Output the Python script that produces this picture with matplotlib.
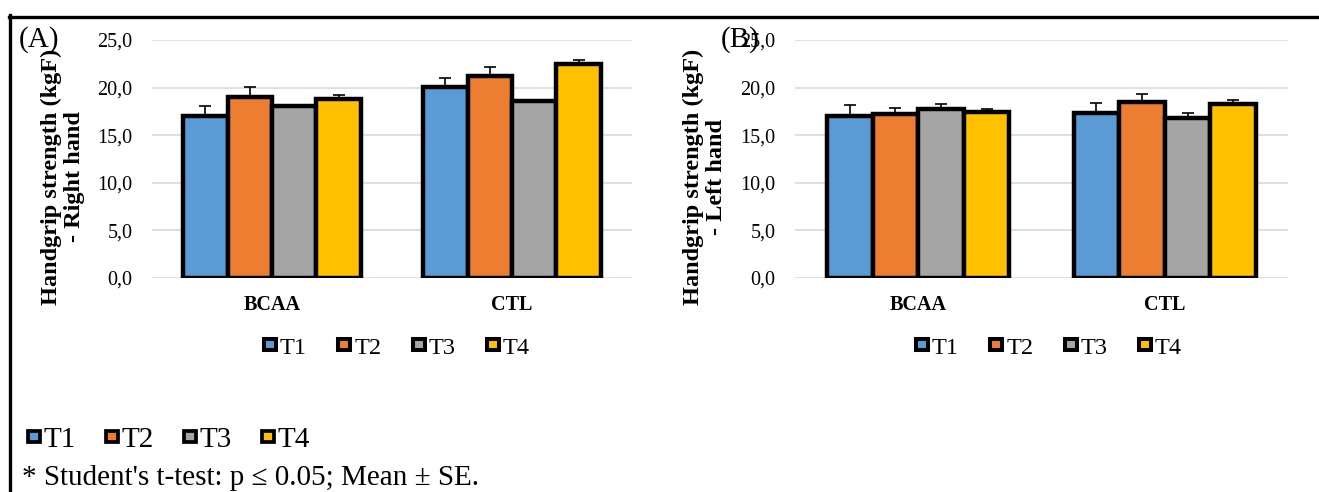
import numpy as np
import matplotlib
matplotlib.use("Agg")
import matplotlib.pyplot as plt
from matplotlib.lines import Line2D
from matplotlib.patches import Patch

plt.rcParams['font.family'] = ['Liberation Serif', 'DejaVu Serif']

groups = ['BCAA', 'CTL']
times = ['T1', 'T2', 'T3', 'T4']
colors = ['#5B9BD5', '#ED7D31', '#A5A5A5', '#FFC000']

# right hand: rows = T1..T4, cols = BCAA, CTL
right_mean = [[17.05, 20.05], [19.0, 21.2], [18.05, 18.55], [18.8, 22.5]]
right_se = [[1.0, 0.95], [1.1, 0.95], [0.0, 0.0], [0.45, 0.45]]
# left hand
left_mean = [[17.05, 17.35], [17.2, 18.5], [17.8, 16.85], [17.45, 18.25]]
left_se = [[1.1, 1.05], [0.65, 0.8], [0.45, 0.45], [0.3, 0.5]]

yticks = [0, 5, 10, 15, 20, 25]

W, H = 1319, 492


def fx(px):
    return px / W


def fy(py):
    return 1 - py / H


fig = plt.figure(figsize=(W / 100, H / 100), dpi=100)


def draw_panel(ax, means, ses):
    x = np.arange(len(groups))
    w = 0.185
    for i, t in enumerate(times):
        pos = x + (i - 1.5) * w
        ax.bar(pos, means[i], w, color=colors[i], edgecolor='black',
               linewidth=3.2, zorder=2, label=t)
        ax.errorbar(pos, means[i], yerr=[np.zeros(len(groups)), ses[i]],
                    fmt='none', ecolor='black', elinewidth=1.2,
                    capsize=4.3, capthick=1.2, zorder=3)
    ax.set_xlim(-0.5, 1.5)
    ax.set_ylim(0, 25)
    ax.set_yticks(yticks)
    ax.set_yticklabels([f"{v:.1f}".replace('.', ',') for v in yticks],
                       fontsize=14.5)
    ax.set_xticks(x)
    ax.set_xticklabels(groups, fontsize=14.5, fontweight='bold')
    ax.tick_params(axis='both', length=0)
    ax.tick_params(axis='y', pad=14)
    ax.tick_params(axis='x', pad=12)
    for s in ax.spines.values():
        s.set_visible(False)
    ax.grid(axis='y', color='#D9D9D9', linewidth=1.2, zorder=0)
    ax.set_axisbelow(True)


axA = fig.add_axes([fx(152), fy(278), (632 - 152) / W, (278 - 40) / H])
axB = fig.add_axes([fx(795), fy(278), (1288 - 795) / W, (278 - 40) / H])
draw_panel(axA, right_mean, right_se)
draw_panel(axB, left_mean, left_se)

fig.text(fx(63), fy(177), "Handgrip strength (kgF)\n- Right hand",
         rotation=90, ha='center', va='center', multialignment='center',
         fontsize=17.5, fontweight='bold', linespacing=1.1)
fig.text(fx(705), fy(177), "Handgrip strength (kgF)\n- Left hand",
         rotation=90, ha='center', va='center', multialignment='center',
         fontsize=17.5, fontweight='bold', linespacing=1.1)

fig.text(fx(19), fy(40), "(A)", va='center', ha='left', fontsize=21)
fig.text(fx(721), fy(40), "(B)", va='center', ha='left', fontsize=21)

handles = [Patch(facecolor=c, edgecolor='black', linewidth=2.9,
                 joinstyle='round') for c in colors]
for cx in (397, 1049):
    fig.legend(handles, times, loc='center', bbox_to_anchor=(fx(cx), fy(348)),
               ncol=4, frameon=False, fontsize=17.5, handlelength=0.5,
               handleheight=0.3, handletextpad=0.15, columnspacing=1.3,
               borderaxespad=0, borderpad=0)

handles2 = [Patch(facecolor=c, edgecolor='black', linewidth=2.7,
                  joinstyle='round') for c in colors]
fig.legend(handles2, times, loc='center', bbox_to_anchor=(fx(169), fy(440)),
           ncol=4, frameon=False, fontsize=21, handlelength=0.4,
           handleheight=0.25, handletextpad=0.12, columnspacing=1.05,
           borderaxespad=0, borderpad=0)

fig.text(fx(22), fy(478), "* Student's t-test: p \u2264 0.05; Mean \u00b1 SE.",
         va='center', ha='left', fontsize=21)

fig.add_artist(Line2D([fx(10), fx(10)], [fy(15), 0], color='black', lw=2.4))
fig.add_artist(Line2D([fx(8.5), 1], [fy(16.5), fy(16.5)], color='black', lw=2.4))

fig.savefig('out.png', dpi=100)
